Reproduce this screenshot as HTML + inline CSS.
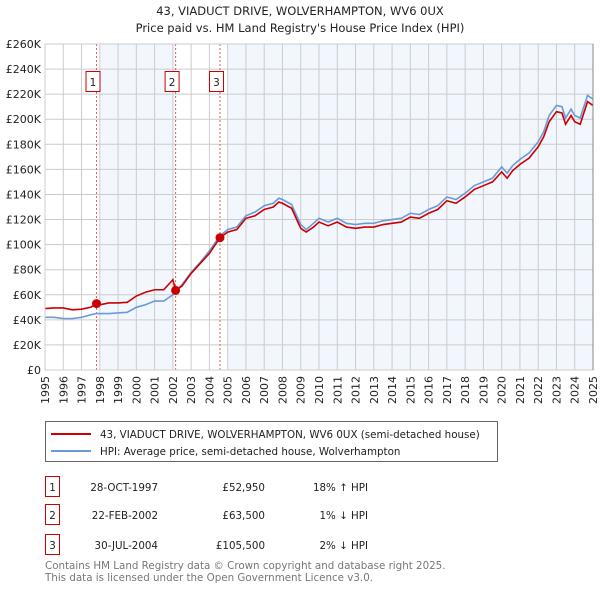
<!DOCTYPE html>
<html><head><meta charset="utf-8"><style>
body{margin:0;background:#fff;font-family:"DejaVu Sans","Liberation Sans",sans-serif;}
svg text{font-family:"DejaVu Sans","Liberation Sans",sans-serif;}
</style></head><body>
<svg id="chart" width="600" height="590" viewBox="0 0 600 590">
<text x="300" y="15" text-anchor="middle" font-size="11.5" fill="#222">43, VIADUCT DRIVE, WOLVERHAMPTON, WV6 0UX</text>
<text x="300" y="32" text-anchor="middle" font-size="11.5" fill="#222">Price paid vs. HM Land Registry's House Price Index (HPI)</text>
<g id="plot"></g>
<g>
<rect x="45.5" y="421.5" width="452" height="40" fill="#fff" stroke="#666"/>
<line x1="51" y1="434" x2="91" y2="434" stroke="#cc0000" stroke-width="2"/>
<text x="100" y="438" font-size="10.3" fill="#222">43, VIADUCT DRIVE, WOLVERHAMPTON, WV6 0UX (semi-detached house)</text>
<line x1="51" y1="451" x2="91" y2="451" stroke="#6a9bd8" stroke-width="2"/>
<text x="100" y="455" font-size="10.3" fill="#222">HPI: Average price, semi-detached house, Wolverhampton</text>
</g>
<g id="table" font-size="10.3" fill="#222"></g>
<text x="45" y="569" font-size="10.3" fill="#777">Contains HM Land Registry data © Crown copyright and database right 2025.</text>
<text x="45" y="581" font-size="10.3" fill="#777">This data is licensed under the Open Government Licence v3.0.</text>
</svg>
<script>
const years=[1995,1995.5,1996,1996.5,1997,1997.5,1997.8,1998,1998.5,1999,1999.5,2000,2000.5,2001,2001.5,2002,2002.15,2002.5,2003,2003.5,2004,2004.58,2005,2005.5,2006,2006.5,2007,2007.5,2007.8,2008,2008.5,2009,2009.3,2009.7,2010,2010.5,2011,2011.5,2012,2012.5,2013,2013.5,2014,2014.5,2015,2015.5,2016,2016.5,2017,2017.5,2018,2018.5,2019,2019.5,2020,2020.3,2020.6,2021,2021.5,2022,2022.3,2022.6,2023,2023.3,2023.5,2023.8,2024,2024.3,2024.7,2025];
const hpiValues=[42,42,41,41,42,44,45,45,45,45.5,46,50,52,55,55,60,63,68,78,86,95,107,112,114,123,126,131,133,137,136,132,116,112,117,121,118,121,117,116,117,117,119,120,121,125,124,128,131,138,136,141,147,150,153,162,157,163,168,173,182,190,203,211,210,201,208,203,201,219,216];
const priceValues=[49,49.5,49.5,48,48.5,50,53,52,53.5,53.5,54,59,62,64,64,72,63.5,67,77,85,93,105.5,110,112,121,123,128,130,134,133,129,113,110,114,118,115,118,114,113,114,114,116,117,118,122,121,125,128,135,133,138,144,147,150,158,153,159,164,169,178,186,198,206,205,196,203,198,196,214,211];
const saleLabels=["1","2","3"];
const saleYears=[1997.82,2002.15,2004.58];
const salePrices=[52.95,63.5,105.5];
const saleDates=["28-OCT-1997","22-FEB-2002","30-JUL-2004"];
const salePriceText=["£52,950","£63,500","£105,500"];
const saleHpiText=["18% ↑ HPI","1% ↓ HPI","2% ↓ HPI"];
const yTicks=[0,20,40,60,80,100,120,140,160,180,200,220,240,260];
const xTicks=[1995,1996,1997,1998,1999,2000,2001,2002,2003,2004,2005,2006,2007,2008,2009,2010,2011,2012,2013,2014,2015,2016,2017,2018,2019,2020,2021,2022,2023,2024,2025];
const shadeStarts=[1998,2005];
const shadeEnds=[2002.1,2025];

const X0=45,X1=593,Y0=370,Y1=44;
const xs=y=>X0+(y-1995)/30*(X1-X0);
const ys=v=>Y0-v/260*(Y0-Y1);
const NS="http://www.w3.org/2000/svg";
const plot=document.getElementById('plot');
function mk(tag,attrs,parent){const e=document.createElementNS(NS,tag);for(const k in attrs)e.setAttribute(k,attrs[k]);(parent||plot).appendChild(e);return e;}

shadeStarts.forEach((s,i)=>{
 const r=mk('rect',{x:xs(s),y:Y1,width:xs(shadeEnds[i])-xs(s),height:Y0-Y1,fill:'#f2f6fd'});
 
 
});
yTicks.forEach(t=>{
 const l=mk('line',{x1:X0,x2:X1,y1:ys(t),y2:ys(t),stroke:'#cccccc','stroke-width':1});
 
 
 const tx=mk('text',{x:X0-4,y:ys(t)+4,'text-anchor':'end','font-size':'11',fill:'#222'});
 tx.textContent=t===0?'£0':'£'+t+'K';
 
 
});
xTicks.forEach(t=>{
 const l=mk('line',{x1:xs(t),x2:xs(t),y1:Y1,y2:Y0,stroke:'#cccccc','stroke-width':1});
 
 
 const tx=mk('text',{x:0,y:0,'text-anchor':'end','font-size':'11',fill:'#222',transform:`translate(${xs(t)+4},376) rotate(-90)`});
 tx.textContent=t;
 
 
});
saleYears.forEach((s,i)=>{
 const l=mk('line',{x1:xs(s),x2:xs(s),y1:Y1,y2:Y0,stroke:'#e06060','stroke-width':1,'stroke-dasharray':'2,2'});
 
 
 const b=mk('rect',{x:xs(s)-10.5,y:71.5,width:14,height:20,fill:'#fff',stroke:'#cc0000'});
 
 
 const tx=mk('text',{x:xs(s)-3.5,y:86,'text-anchor':'middle','font-size':'10.5',fill:'#222'});
 tx.textContent=saleLabels[i];
 
 
});
const line=(vals,color,name)=>{
 const p=mk('polyline',{points:years.map((y,i)=>xs(y)+','+ys(vals[i])).join(' '),fill:'none',stroke:color,'stroke-width':1.6});
 
 
};
line(hpiValues,'#6a9bd8','hpi-line');
line(priceValues,'#cc0000','price-line');
saleYears.forEach((s,i)=>{
 const c=mk('circle',{cx:xs(s),cy:ys(salePrices[i]),r:4.5,fill:'#cc0000'});
 
 
});
mk('rect',{x:X0,y:Y1,width:X1-X0,height:Y0-Y1,fill:'none',stroke:'#cccccc'});
mk('line',{x1:X1,x2:X1,y1:Y1,y2:Y0,stroke:'#888'});

const tbl=document.getElementById('table');
const rowY=[487,515,545];
saleLabels.forEach((lab,i)=>{
 const y=rowY[i];
 const b=mk('rect',{x:45.5,y:y-10.5,width:14,height:20,fill:'#fff',stroke:'#cc0000'},tbl);
 
 
 const t0=mk('text',{x:52.5,y:y+4,'text-anchor':'middle'},tbl);t0.textContent=lab;
 
 
 const t1=mk('text',{x:158,y:y+4,'text-anchor':'end'},tbl);t1.textContent=saleDates[i];
 
 
 const t2=mk('text',{x:265,y:y+4,'text-anchor':'end'},tbl);t2.textContent=salePriceText[i];
 
 
 const t3=mk('text',{x:368,y:y+4,'text-anchor':'end'},tbl);t3.textContent=saleHpiText[i];
 
 
});
</script>
</body></html>
